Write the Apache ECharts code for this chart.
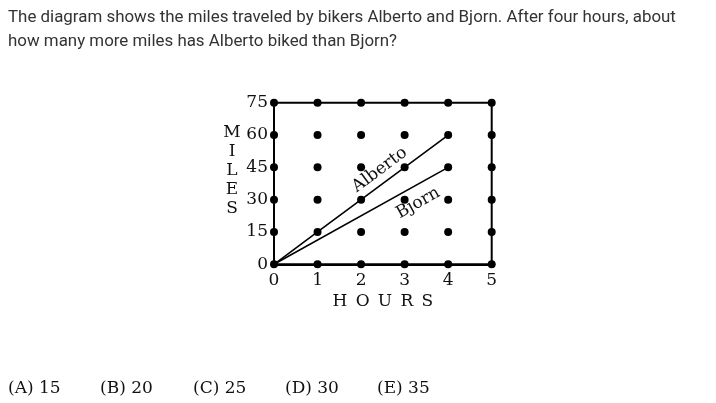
<!DOCTYPE html>
<html><head><meta charset="utf-8">
<script src="https://cdn.jsdelivr.net/npm/echarts@6/dist/echarts.min.js"></script>
<style>html,body{margin:0;padding:0;background:#fff}#c{width:716px;height:403px}</style>
</head><body><div id="c"></div>
<script>
const hours = [0, 1, 2, 3, 4, 5];
const milesTicks = [0, 15, 30, 45, 60, 75];
const albertoHours = [0, 1, 2, 3, 4];
const albertoMiles = [0, 15, 30, 45, 60];
const bjornHours = [0, 4];
const bjornMiles = [0, 45];
const question = ['The diagram shows the miles traveled by bikers Alberto and Bjorn. After four hours, about', 'how many more miles has Alberto biked than Bjorn?'];
const choices = ['(A) 15', '(B) 20', '(C) 25', '(D) 30', '(E) 35'];
const choiceX = [8, 100, 193, 285, 377];

const serif = 'DejaVu Serif';
const dots = [];
hours.forEach(h => milesTicks.forEach(m => dots.push([h, m])));

const chart = echarts.init(document.getElementById('c'), null, {renderer: 'canvas'});
const graphics = [
  {type: 'text', left: 8, top: 6, style: {text: question.join('\n'), font: '16.9px Roboto', fill: '#333', lineHeight: 24}},
  {type: 'text', x: 232, y: 171, style: {text: 'M\nI\nL\nE\nS', font: '17px "DejaVu Serif"', fill: '#111', lineHeight: 19, align: 'center', verticalAlign: 'middle'}}
];
choices.forEach((c, i) => graphics.push({type: 'text', x: choiceX[i], y: 389, style: {text: c, font: '17px "DejaVu Serif"', fill: '#111', verticalAlign: 'middle'}}));

chart.setOption({
  animation: false,
  grid: {left: 274, right: 224.3, top: 102.7, bottom: 138.7, show: true, borderColor: '#000', borderWidth: 2, backgroundColor: 'transparent'},
  xAxis: {type: 'value', min: 0, max: 5, interval: 1,
    axisLine: {show: true, lineStyle: {color: '#000', width: 2}}, axisTick: {show: false}, splitLine: {show: false},
    axisLabel: {fontFamily: serif, fontSize: 17, color: '#111', margin: 8},
    name: 'H \u2006O \u2006U \u2006R \u2006S', nameLocation: 'middle', nameGap: 29,
    nameTextStyle: {fontFamily: serif, fontSize: 17, color: '#111'}},
  yAxis: {type: 'value', min: 0, max: 75, interval: 15,
    axisLine: {show: true, lineStyle: {color: '#000', width: 2}}, axisTick: {show: false}, splitLine: {show: false},
    axisLabel: {fontFamily: serif, fontSize: 17, color: '#111', margin: 6}},
  graphic: graphics,
  series: [
    {type: 'line', name: 'Alberto', data: albertoHours.map((h, i) => [h, albertoMiles[i]]), symbol: 'none',
      lineStyle: {color: '#000', width: 1.6}, z: 2,
      markPoint: {symbol: 'circle', symbolSize: 0, data: [{coord: [2.43, 43.8]}],
        label: {show: true, position: 'inside', formatter: 'Alberto', rotate: 36.6, fontFamily: serif, fontSize: 17, color: '#111'}}},
    {type: 'line', name: 'Bjorn', data: bjornHours.map((h, i) => [h, bjornMiles[i]]), symbol: 'none',
      lineStyle: {color: '#000', width: 1.6}, z: 2,
      markPoint: {symbol: 'circle', symbolSize: 0, data: [{coord: [3.31, 28.4]}],
        label: {show: true, position: 'inside', formatter: 'Bjorn', rotate: 29.1, fontFamily: serif, fontSize: 17, color: '#111'}}},
    {type: 'scatter', data: dots, symbol: 'circle', symbolSize: 8, itemStyle: {color: '#000', opacity: 1}, z: 5}
  ]
});
</script></body></html>
